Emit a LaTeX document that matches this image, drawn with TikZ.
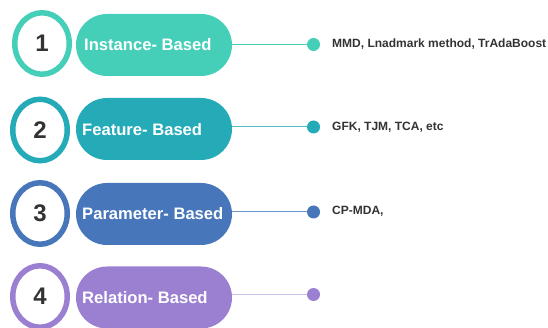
\documentclass[tikz,border=0pt]{standalone}
\usepackage{fontspec}
\setmainfont{Liberation Sans}
\usepackage{tikz}
\usetikzlibrary{shapes.geometric}

\definecolor{instcol}{HTML}{45CFB8}
\definecolor{featcol}{HTML}{25ABB8}
\definecolor{paramcol}{HTML}{4777BA}
\definecolor{relcol}{HTML}{9B80D2}
\definecolor{inkgray}{HTML}{333333}

\begin{document}
\begin{tikzpicture}[
            x=1pt, y=-1pt,
            num node/.style={ellipse, draw, line width=5.5pt, minimum width=54.5pt, minimum height=61.5pt,
                inner sep=0pt, text=inkgray, font=\bfseries\fontsize{24}{26}\selectfont},
            pill node/.style={rectangle, rounded corners=31pt, minimum width=156pt, minimum height=62pt},
            pill text/.style={anchor=west, inner sep=0pt, text=white, font=\bfseries\fontsize{16.6}{18}\selectfont},
            dot node/.style={circle, minimum size=13pt, inner sep=0pt},
            method node/.style={anchor=west, inner sep=0pt, text=inkgray, font=\bfseries\fontsize{12}{14}\selectfont},
            link/.style={line width=1pt},
            ]
            \useasboundingbox (0,0) rectangle (548,328);
            \def\px{154}
            \def\dx{313.5}

            \node[num node, draw=instcol] (n1) at (42,43.5) {1};
            \node[num node, draw=featcol] (n2) at (40,130) {2};
            \node[num node, draw=paramcol] (n3) at (40,213.5) {3};
            \node[num node, draw=relcol] (n4) at (40,296.5) {4};

            \node[pill node, fill=instcol] (p1) at (\px,45) {};
            \node[pill node, fill=featcol] (p2) at (\px,129) {};
            \node[pill node, fill=paramcol] (p3) at (\px,214) {};
            \node[pill node, fill=relcol] (p4) at (\px,297.5) {};

            \node[pill text] (t1) at (84,45) {Instance- Based};
            \node[pill text] (t2) at (82,130) {Feature- Based};
            \node[pill text] (t3) at (82,214) {Parameter- Based};
            \node[pill text] (t4) at (82,297.5) {Relation- Based};

            \node[dot node, fill=instcol] (d1) at (\dx,44.5) {};
            \node[dot node, fill=featcol] (d2) at (\dx,127) {};
            \node[dot node, fill=paramcol] (d3) at (\dx,212) {};
            \node[dot node, fill=relcol] (d4) at (\dx,294.5) {};

            \node[method node] (m1) at (332,44) {MMD, Lnadmark method, TrAdaBoost};
            \node[method node] (m2) at (332,127) {GFK, TJM, TCA, etc};
            \node[method node] (m3) at (332,211.5) {CP-MDA,};

            \draw[link, instcol] (p1.east |- d1) -- (d1);
            \draw[link, featcol!80] (p2.east |- d2) -- (d2);
            \draw[link, paramcol!80] (p3.east |- d3) -- (d3);
            \draw[link, relcol!50] (p4.east |- d4) -- (d4);
        \end{tikzpicture}
\end{document}
